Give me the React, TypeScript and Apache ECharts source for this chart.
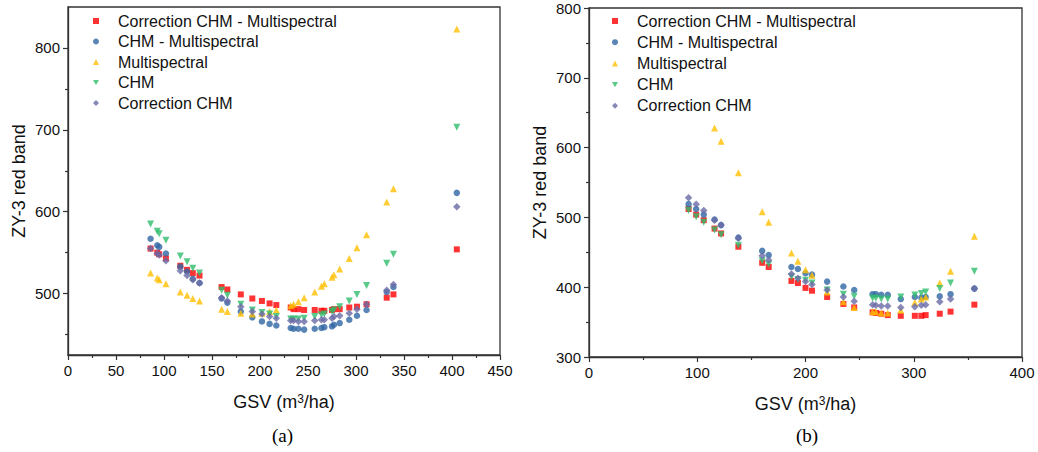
import React, { useEffect, useRef } from "react";
import * as echarts from "echarts";

// ---------- Chart (a) ----------
const xA = [86, 93, 95, 102, 117, 124, 130, 137, 160, 166, 180, 192, 202, 210, 217, 232, 235, 240, 246, 257, 264, 267, 275, 277, 283, 293, 301, 311, 332, 339, 405];
const redA = [555, 550, 548, 543, 534, 529, 525, 522, 508, 505, 499, 494, 491, 488, 486, 483, 481, 481, 480, 480, 479, 479, 480, 481, 481, 483, 484, 487, 495, 499, 554];
const blueA = [567, 559, 557, 549, 533, 527, 518, 513, 494, 489, 478, 471, 466, 463, 461, 458, 457, 457, 456, 457, 458, 459, 460, 462, 464, 468, 473, 480, 502, 508, 623];
const yellowA = [525, 519, 517, 512, 502, 498, 494, 491, 481, 478, 476, 475, 476, 478, 480, 485, 487, 490, 495, 502, 509, 512, 520, 523, 530, 543, 556, 572, 612, 628, 823];
const greenA = [585, 576, 573, 565, 546, 539, 531, 525, 504, 498, 487, 480, 477, 475, 472, 469, 469, 469, 470, 472, 474, 475, 478, 480, 484, 491, 499, 510, 537, 548, 703];
const purpleA = [555, 549, 547, 540, 528, 522, 517, 513, 495, 491, 484, 478, 475, 472, 470, 467, 467, 466, 466, 467, 468, 468, 470, 472, 473, 476, 481, 487, 504, 511, 606];

// ---------- Chart (b) ----------
const xB = [92, 99, 106, 116, 122, 138, 160, 166, 187, 193, 200, 206, 220, 235, 245, 262, 265, 270, 276, 288, 301, 307, 311, 324, 334, 356];
const redB = [512, 504, 496, 484, 477, 458, 435, 429, 409, 406, 399, 395, 386, 376, 371, 364, 363, 362, 360, 359, 359, 359, 360, 362, 365, 375];
const blueB = [519, 512, 504, 497, 489, 471, 452, 446, 429, 426, 420, 418, 408, 401, 396, 390, 390, 389, 389, 383, 386, 385, 386, 387, 390, 398];
const yellowB = [null, null, null, 628, 609, 564, 508, 493, 449, 437, 425, 417, 393, 379, 371, 365, 365, 363, 363, 367, 378, 383, 386, 406, 423, 473];
const greenB = [510, 501, 493, 482, 475, 460, 438, 433, 415, 411, 410, 406, 396, 390, 387, 384, 384, 383, 383, 386, 389, 391, 393, 398, 406, 423];
const purpleB = [528, 519, 510, 496, 489, 470, 445, 439, 419, 413, 408, 404, 396, 386, 380, 375, 374, 373, 373, 371, 372, 374, 375, 379, 383, 398];

// ---------- Axis ticks ----------
const yMajorA = [500, 600, 700, 800];
const yMinorA = [450, 550, 650, 750];

const seriesNames = [
  "Correction CHM - Multispectral",
  "CHM - Multispectral",
  "Multispectral",
  "CHM",
  "Correction CHM",
];
const captions = ["(a)", "(b)"];

const colors = ["#ff0000", "#2f66a4", "#ffbf00", "#2fbd6c", "#6a6aa6"];
const symbols = ["rect", "circle", "triangle", "path://M0,0L10,0L5,8.66Z", "diamond"];
const sizes = [6, 6.5, 7, 7, 7.5];

const FONT = "'Liberation Sans', Arial, Helvetica, sans-serif";
const SERIF = "'Liberation Serif', 'Times New Roman', serif";
const AX = "#333";

function pairs(xs: number[], ys: (number | null)[]) {
  const out: number[][] = [];
  xs.forEach((x, i) => {
    const y = ys[i];
    if (y !== null && y !== undefined) out.push([x, y]);
  });
  return out;
}

const axisName = {
  fontSize: 18,
  fontFamily: FONT,
  color: "#111",
};

function xAxisCfg(grid: number, max: number, interval: number) {
  return {
    type: "value",
    gridIndex: grid,
    min: 0,
    max,
    interval,
    name: "GSV (m{sup|3}/ha)",
    nameLocation: "middle",
    nameGap: 38,
    nameTextStyle: {
      ...axisName,
      rich: { sup: { fontSize: 12, fontFamily: FONT, color: "#111", verticalAlign: "top", lineHeight: 11 } },
    },
    axisLine: { show: true, onZero: false, lineStyle: { color: AX, width: 1.3 } },
    axisTick: { show: true, length: 5, inside: false, lineStyle: { color: AX, width: 1.2 } },
    minorTick: { show: true, splitNumber: 2, length: 3, lineStyle: { color: AX, width: 1.2 } },
    axisLabel: { fontSize: 15, fontFamily: FONT, color: "#111", margin: 8 },
    splitLine: { show: false },
    minorSplitLine: { show: false },
  };
}

export default function App() {
  const ref = useRef<HTMLDivElement>(null);

  useEffect(() => {
    if (!ref.current) return;
    const chart = echarts.init(ref.current, undefined, { renderer: "svg" });

    const seriesA = [redA, blueA, yellowA, greenA, purpleA];
    const seriesB = [redB, blueB, yellowB, greenB, purpleB];

    const series: any[] = [];
    seriesA.forEach((ys, i) => {
      series.push({
        type: "scatter",
        name: seriesNames[i],
        xAxisIndex: 0,
        yAxisIndex: 0,
        data: pairs(xA, ys),
        symbol: symbols[i],
        symbolSize: sizes[i],
        itemStyle: { color: colors[i] },
      });
    });
    seriesB.forEach((ys, i) => {
      series.push({
        type: "scatter",
        name: seriesNames[i],
        xAxisIndex: 1,
        yAxisIndex: 2,
        data: pairs(xB, ys),
        symbol: symbols[i],
        symbolSize: sizes[i],
        itemStyle: { color: colors[i] },
      });
    });

    const legendBase = {
      data: seriesNames,
      orient: "vertical",
      itemWidth: 6,
      itemHeight: 6,
      selectedMode: false,
      textStyle: { fontSize: 16, lineHeight: 16, fontFamily: FONT, color: "#111", padding: [0, 0, 0, 14] },
    };

    chart.setOption({
      animation: false,
      backgroundColor: "#fff",
      grid: [
        { left: 68, top: 7, width: 432, height: 348, show: true, borderColor: AX, borderWidth: 1.3, backgroundColor: "transparent" },
        { left: 589, top: 8, width: 433, height: 349, show: true, borderColor: AX, borderWidth: 1.3, backgroundColor: "transparent" },
      ],
      legend: [
        { ...legendBase, left: 88, top: 8, itemGap: 4.5 },
        { ...legendBase, left: 607, top: 8, itemGap: 5.2 },
      ],
      xAxis: [xAxisCfg(0, 450, 50), xAxisCfg(1, 400, 100)],
      yAxis: [
        {
          type: "value",
          gridIndex: 0,
          min: 425,
          max: 850,
          name: "ZY-3 red band",
          nameLocation: "middle",
          nameGap: 40,
          nameTextStyle: axisName,
          axisLine: { show: true, onZero: false, lineStyle: { color: AX, width: 1.3 } },
          axisTick: { show: true, length: 5, customValues: yMajorA, lineStyle: { color: AX, width: 1.2 } },
          axisLabel: { fontSize: 15, fontFamily: FONT, color: "#111", margin: 8, customValues: yMajorA },
          splitLine: { show: false },
        },
        {
          type: "value",
          gridIndex: 0,
          min: 425,
          max: 850,
          position: "left",
          axisLine: { show: false },
          axisTick: { show: true, length: 3, customValues: yMinorA, lineStyle: { color: AX, width: 1.2 } },
          axisLabel: { show: false },
          splitLine: { show: false },
        },
        {
          type: "value",
          gridIndex: 1,
          min: 300,
          max: 800,
          interval: 100,
          name: "ZY-3 red band",
          nameLocation: "middle",
          nameGap: 40,
          nameTextStyle: axisName,
          axisLine: { show: true, onZero: false, lineStyle: { color: AX, width: 1.3 } },
          axisTick: { show: true, length: 5, lineStyle: { color: AX, width: 1.2 } },
          minorTick: { show: true, splitNumber: 2, length: 3, lineStyle: { color: AX, width: 1.2 } },
          axisLabel: { fontSize: 15, fontFamily: FONT, color: "#111", margin: 8 },
          splitLine: { show: false },
          minorSplitLine: { show: false },
        },
      ],
      graphic: [
        {
          type: "text",
          left: 272,
          top: 426,
          style: { text: captions[0], fontSize: 19, fontFamily: SERIF, fill: "#000" },
        },
        {
          type: "text",
          left: 796,
          top: 426,
          style: { text: captions[1], fontSize: 19, fontFamily: SERIF, fill: "#000" },
        },
      ],
      series,
    });

    return () => chart.dispose();
  }, []);

  return (
    <div
      ref={ref}
      style={{ position: "fixed", left: 0, top: 0, width: 1038, height: 452, background: "#fff" }}
    />
  );
}
